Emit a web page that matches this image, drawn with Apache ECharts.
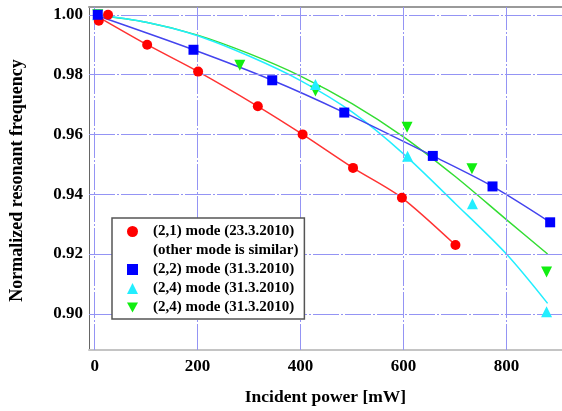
<!DOCTYPE html>
<html>
<head>
<meta charset="utf-8">
<script src="https://cdn.jsdelivr.net/npm/echarts@6/dist/echarts.min.js"></script>
<style>
  html, body { margin: 0; padding: 0; background: #fff; }
  #chart { width: 562px; height: 411px; }
</style>
</head>
<body>
<div id="chart"></div>
<script>
// Tick positions
const xTicks = [0, 200, 400, 600, 800];
const yTicks = [0.90, 0.92, 0.94, 0.96, 0.98, 1.00];

// Measured points [power mW, normalized frequency]
const mode21 = [[8, 0.998], [26, 1.000], [102, 0.990], [201, 0.981], [317, 0.9694], [404, 0.960], [502, 0.9488], [597, 0.9388], [701, 0.923]];
const mode22 = [[6, 1.000], [192, 0.9883], [345, 0.9781], [485, 0.9673], [657, 0.9528], [773, 0.9426], [885, 0.9306]];
const mode24a = [[6, 1.000], [429, 0.9767], [608, 0.9527], [734, 0.9368], [878, 0.9007]];
const mode24b = [[6, 1.000], [282, 0.9831], [429, 0.9745], [607, 0.9624], [733, 0.9485], [878, 0.9140]];

// Fitted curves
const fit21 = [[0, 1.000], [102, 0.990], [201, 0.981], [317, 0.9694], [404, 0.960], [502, 0.9488], [597, 0.9388], [701, 0.923]];
const fit22 = [[0, 1.000], [192, 0.9883], [345, 0.9781], [485, 0.9673], [657, 0.9528], [773, 0.9426], [885, 0.9306]];
const fit24a = [[0, 1.000], [100, 0.9975], [200, 0.9930], [300, 0.9862], [400, 0.9780], [500, 0.9675], [600, 0.9535], [700, 0.9370], [800, 0.9200], [880, 0.9035]];
const fit24b = [[0, 1.000], [100, 0.9975], [200, 0.9932], [300, 0.9870], [400, 0.9795], [500, 0.9703], [600, 0.9592], [700, 0.9460], [800, 0.9315], [880, 0.9200]];

// Legend texts
const legendText = {
  m21: '(2,1) mode (23.3.2010)',
  note: '(other mode is similar)',
  m22: '(2,2) mode (31.3.2010)',
  m24a: '(2,4) mode (31.3.2010)',
  m24b: '(2,4) mode (31.3.2010)'
};

const FONT = '"Liberation Serif", "Times New Roman", serif';
const gridLine = { color: '#9494f4', width: 1, type: [26, 2, 2, 2] };
const downTriangle = 'path://M0,0L10,0L5,9Z';

function fitLine(name, data, color) {
  return {
    name: name, type: 'line', data: data, smooth: 0.3, symbol: 'none', z: 3,
    lineStyle: { color: color, width: 1.5 }, silent: true
  };
}
function points(name, data, symbol, color, size) {
  return {
    name: name, type: 'scatter', data: data, symbol: symbol, symbolSize: size || 10, z: 5,
    itemStyle: { color: color, opacity: 1 }
  };
}

const chart = echarts.init(document.getElementById('chart'), null, { renderer: 'canvas' });
chart.setOption({
  backgroundColor: '#ffffff',
  animation: false,
  grid: { left: 86, right: 0, top: 7, bottom: 58 },
  xAxis: [{
    type: 'value', min: -11, max: 908,
    name: 'Incident power [mW]', nameLocation: 'middle', nameGap: 38,
    nameTextStyle: { fontFamily: FONT, fontWeight: 'bold', fontSize: 17.5, color: '#000' },
    axisLine: { show: true, onZero: false, lineStyle: { color: '#c4c4c4', width: 2 } },
    axisTick: { show: true, inside: true, length: 10, customValues: xTicks, lineStyle: { color: '#444', width: 1 } },
    axisLabel: { customValues: xTicks, margin: 8, fontFamily: FONT, fontWeight: 'bold', fontSize: 17, color: '#000' },
    splitLine: { show: false }
  }, {
    type: 'value', position: 'top', min: -11, max: 908,
    axisLine: { show: true, lineStyle: { color: '#9a9a9a', width: 2 } },
    axisTick: { show: false }, axisLabel: { show: false }, splitLine: { show: false }
  }],
  yAxis: {
    type: 'value', min: 0.8879, max: 1.0026,
    name: 'Normalized resonant frequency', nameLocation: 'middle', nameGap: 63,
    nameTextStyle: { fontFamily: FONT, fontWeight: 'bold', fontSize: 18, color: '#000', padding: [0, 4, 0, 0] },
    axisLine: { show: true, onZero: false, lineStyle: { color: '#666', width: 1 } },
    axisTick: { show: true, inside: true, length: 10, customValues: yTicks, lineStyle: { color: '#444', width: 1 } },
    axisLabel: {
      customValues: yTicks, margin: 6, fontFamily: FONT, fontWeight: 'bold', fontSize: 17, color: '#000',
      formatter: v => v.toFixed(2)
    },
    splitLine: { show: false }
  },
  legend: {
    orient: 'vertical', left: 112, top: 218, z: 20,
    data: [
      { name: 'm21' },
      { name: 'note', icon: 'none' },
      { name: 'm22' },
      { name: 'm24a' },
      { name: 'm24b', icon: downTriangle }
    ],
    formatter: n => legendText[n],
    itemWidth: 11, itemHeight: 11, itemGap: 4,
    padding: [6, 6, 4, 15],
    backgroundColor: '#fff', borderColor: '#555', borderWidth: 1.5, borderRadius: 0,
    textStyle: { fontFamily: FONT, fontWeight: 'bold', fontSize: 15, color: '#000', lineHeight: 14, padding: [0, 0, 0, 10] },
    selectedMode: false
  },
  series: [
    {
      name: 'grid', type: 'line', data: [], z: 1, silent: true,
      markLine: {
        silent: true, symbol: 'none', label: { show: false }, animation: false,
        lineStyle: gridLine,
        data: xTicks.map(v => ({ xAxis: v })).concat(yTicks.map(v => ({ yAxis: v })))
      }
    },
    fitLine('f24b', fit24b, '#33dd33'),
    fitLine('f24a', fit24a, '#22eeff'),
    fitLine('f21', fit21, '#ff3333'),
    fitLine('f22', fit22, '#4444ee'),
    points('m24b', mode24b, downTriangle, '#11ee11', 11),
    points('m24a', mode24a, 'triangle', '#22eeff', 11),
    points('m21', mode21, 'circle', '#ff0000'),
    points('m22', mode22, 'rect', '#0000ff'),
    points('note', [], 'none', '#000')
  ]
});
</script>
</body>
</html>
